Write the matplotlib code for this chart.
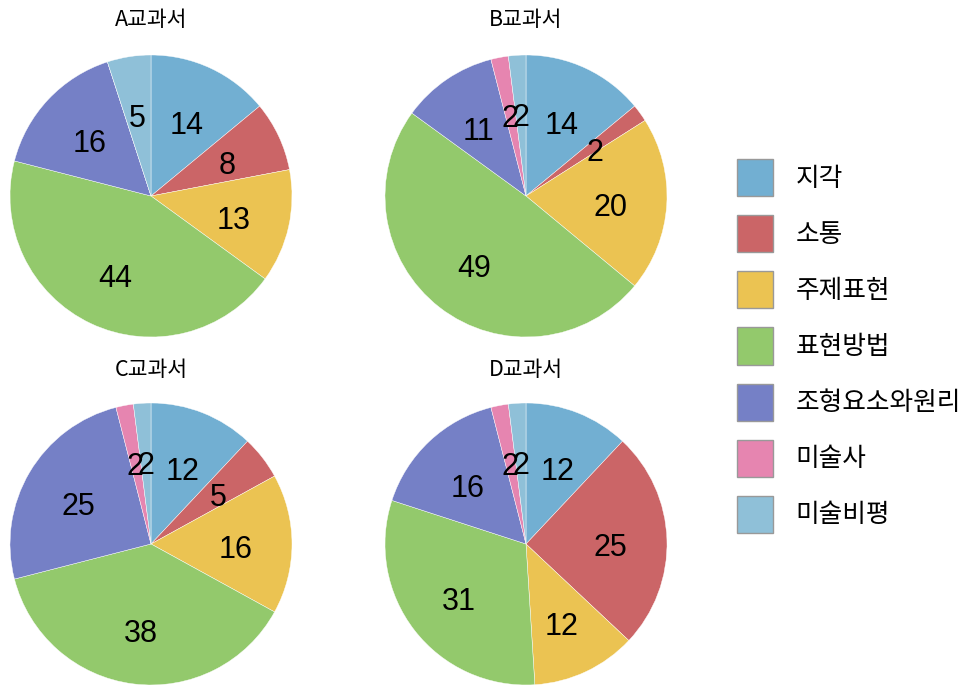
import matplotlib
matplotlib.use('Agg')
import matplotlib.pyplot as plt
from matplotlib.patches import Patch
from matplotlib.transforms import offset_copy

plt.rcParams['font.family'] = ['Noto Sans CJK KR', 'DejaVu Sans']

# Category counts per textbook (same order as the legend)
categories = ['지각', '소통', '주제표현', '표현방법', '조형요소와원리', '미술사', '미술비평']
book_a = [14, 8, 13, 44, 16, 0, 5]
book_b = [14, 2, 20, 49, 11, 2, 2]
book_c = [12, 5, 16, 38, 25, 2, 2]
book_d = [12, 25, 12, 31, 16, 2, 2]
titles = ['A교과서', 'B교과서', 'C교과서', 'D교과서']

colors = ['#72afd2', '#cb6567', '#ebc352', '#93c96c', '#7580c6', '#e685b0', '#8fc0d8']

W, H = 973, 685
fig = plt.figure(figsize=(W / 100, H / 100), dpi=100)

# pie centres and title heights in pixels from the top-left corner
centres = [(151, 196), (526, 196), (151, 544), (526, 544)]
title_y = [20, 20, 370, 370]
radius = 141

for (cx, cy), ty, title, vals in zip(centres, title_y, titles,
                                     [book_a, book_b, book_c, book_d]):
    ax = fig.add_axes([(cx - radius) / W, (H - cy - radius) / H,
                       2 * radius / W, 2 * radius / H])
    wedges, texts, autotexts = ax.pie(
        vals, colors=colors, startangle=90, counterclock=False,
        autopct='%d', pctdistance=0.6,
        wedgeprops=dict(edgecolor='white', linewidth=0.3),
        textprops=dict(fontsize=22, family=['Liberation Sans'], color='black'))
    # slices are counts out of 100, so show the count itself; skip empty ones
    # and nudge the numbers down a little
    shifted = offset_copy(ax.transData, fig=fig, x=0, y=-4.5, units='points')
    for t, v in zip(autotexts, vals):
        t.set_text(str(v) if v else '')
        t.set_transform(shifted)
    ax.set_xlim(-1, 1)
    ax.set_ylim(-1, 1)
    ax.set_aspect('equal')
    fig.text(cx / W, 1 - ty / H, title, ha='center', va='center', fontsize=15.5)

handles = [Patch(facecolor=c, edgecolor='#999999', linewidth=1) for c in colors]
fig.legend(handles, categories, loc='center left',
           bbox_to_anchor=(727 / W, 1 - 346 / H), frameon=False,
           fontsize=18.5, handlelength=1.4, handleheight=1.84,
           labelspacing=0.74, handletextpad=0.86, borderaxespad=0)

fig.savefig('out.png', dpi=100)
